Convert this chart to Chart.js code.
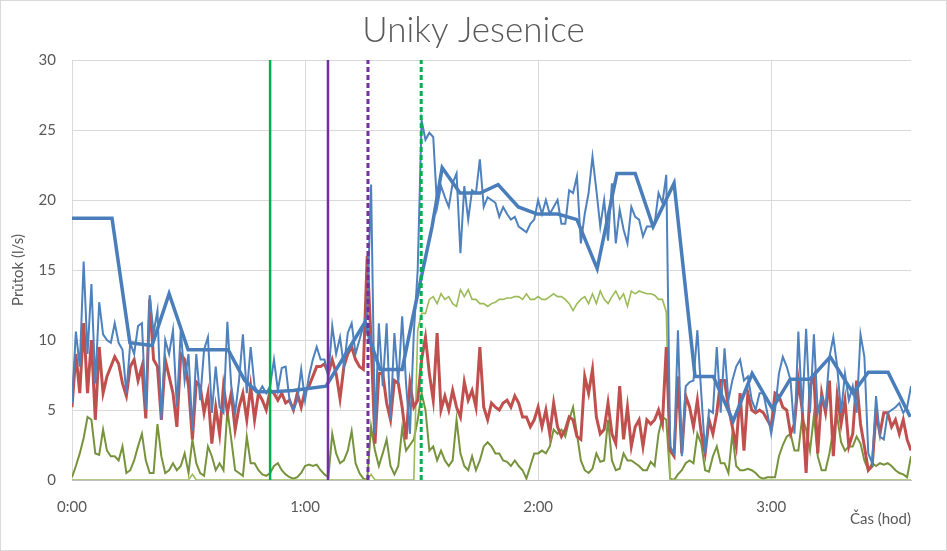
<!DOCTYPE html>
<html>
<head>
<meta charset="utf-8">
<script src="https://cdn.jsdelivr.net/npm/chart.js@4.4.1/dist/chart.umd.min.js"></script>
<style>
  html, body { margin: 0; padding: 0; background: #fff; }
  #wrap { width: 947px; height: 551px; }
</style>
</head>
<body>
<div id="wrap"><canvas id="chartCanvas" width="947" height="551"></canvas></div>
<script>
// --- data (cas v minutach, prutok v l/s) ---
const casMin = Array.from({ length: 217 }, (_, i) => i); // jeden vzorek za minutu

const prutokModra = [
  5.5,10.6,8.1,15.6,9.0,14.0,6.9,12.7,10.4,10.0,
  9.8,11.2,9.8,9.3,6.2,9.8,9.0,11.0,11.2,5.0,
  13.2,10.5,12.1,4.3,10.0,9.0,10.7,5.2,10.7,7.1,
  9.0,3.5,9.0,5.7,9.3,10.2,4.8,8.1,5.2,4.8,
  11.3,6.7,4.8,7.1,10.4,6.2,9.5,6.7,6.2,6.7,
  6.2,6.7,8.6,6.4,8.0,8.1,5.7,5.0,5.7,7.9,
  5.7,7.4,8.6,9.5,8.6,8.6,7.4,11.0,9.0,10.2,
  8.1,10.5,11.2,9.0,10.0,11.0,11.9,21.1,3.3,11.2,
  6.7,11.2,4.3,10.5,6.9,11.7,6.9,3.3,10.5,15.0,
  25.7,24.3,24.8,24.5,19.5,21.0,20.2,19.5,21.2,21.9,
  16.2,21.0,18.6,20.7,20.5,22.9,19.5,20.2,20.0,19.8,
  18.8,19.5,19.0,18.6,18.8,18.1,17.9,17.7,18.3,18.6,
  20.0,19.0,20.0,19.0,19.5,20.0,18.3,18.3,20.7,20.5,
  21.7,16.9,19.0,20.5,23.1,20.7,18.1,20.0,17.1,21.2,
  16.9,19.3,17.9,16.9,19.5,18.8,18.6,17.4,18.1,18.1,
  18.3,20.5,19.8,21.8,2.4,1.9,10.7,1.7,6.7,7.0,
  7.1,10.7,6.2,1.9,5.0,4.8,9.5,4.8,9.4,5.7,
  7.1,8.1,8.6,7.1,7.4,5.7,5.0,6.2,6.2,4.8,
  3.3,5.0,7.6,8.8,8.1,7.1,3.3,10.6,4.8,10.8,
  4.8,10.4,4.8,6.0,5.2,8.8,10.2,8.1,4.8,7.6,
  5.7,6.7,4.8,10.4,8.8,1.9,1.2,6.0,3.1,2.9,
  4.8,5.0,5.2,5.5,4.8,5.2,6.7
];

const prutokCervena = [
  5.2,9.0,6.2,11.2,6.2,10.0,4.3,9.5,6.2,7.4,
  8.1,8.8,8.3,6.9,6.0,8.1,8.6,7.1,8.1,4.4,
  12.9,8.6,8.1,4.3,8.6,7.4,6.2,3.8,9.0,8.6,
  6.7,2.9,7.0,6.7,4.8,6.2,2.6,5.2,3.3,6.7,
  4.8,6.2,3.6,5.2,6.2,4.3,6.7,4.3,6.2,5.7,
  5.0,6.4,6.2,5.7,6.2,5.5,5.7,5.0,6.2,5.2,
  6.4,6.7,7.4,8.1,8.1,8.3,7.6,8.6,7.6,5.8,
  8.1,9.0,9.5,8.6,8.1,7.9,16.0,10.0,2.6,7.6,
  7.6,5.5,4.3,7.1,6.9,5.2,2.9,6.9,5.2,5.7,
  8.6,10.2,7.6,5.7,10.5,5.0,6.0,5.0,6.4,5.2,
  4.5,7.0,5.7,6.4,5.2,9.5,5.2,4.3,5.5,5.2,
  5.0,5.5,5.7,5.2,6.0,5.5,4.5,4.5,3.8,4.3,
  5.2,3.8,5.0,3.3,5.5,3.8,3.1,3.6,4.5,4.3,
  3.1,2.9,7.4,6.2,7.9,4.5,3.3,3.6,5.5,3.3,
  2.6,6.7,2.9,5.2,2.4,3.8,4.3,2.4,4.3,4.0,
  4.3,5.0,4.0,9.5,2.1,1.7,7.4,1.9,6.0,5.2,
  3.8,5.7,3.3,1.9,4.3,3.3,4.8,7.1,7.1,5.2,
  3.8,2.4,6.2,2.1,6.2,5.0,4.8,5.0,4.8,4.3,
  3.8,6.2,6.0,5.2,5.0,3.3,4.0,7.1,5.0,0.5,
  6.7,7.4,1.9,6.2,4.8,7.1,1.7,6.0,4.0,5.7,
  2.4,3.3,7.1,4.0,2.4,0.7,1.0,4.8,3.3,4.8,
  4.8,3.8,4.3,3.3,4.3,2.9,2.1
];

const prutokOlivova = [
  0.2,1.0,1.9,3.0,4.5,4.3,1.9,1.8,3.6,2.1,
  1.7,1.7,1.4,2.4,0.5,0.7,1.4,2.4,3.3,1.4,
  0.5,0.5,4.0,1.7,0.5,0.7,1.2,0.7,1.0,1.9,
  0.5,2.9,1.2,0.5,0.3,2.4,1.7,0.7,1.2,0.7,
  5.0,2.9,0.7,0.5,0.3,3.1,1.2,1.2,0.7,0.4,
  0.3,0.5,1.0,1.2,0.7,0.4,0.2,0.1,0.2,0.5,
  1.0,1.1,1.0,1.1,0.7,0.4,0.2,3.3,1.9,1.2,
  1.4,2.1,3.5,1.2,0.5,0.1,0,3.8,2.1,1.0,
  1.9,2.9,1.0,0.4,1.0,3.7,2.1,2.5,2.9,4.3,
  6.2,5.0,2.1,2.4,1.4,2.1,1.4,1.0,1.4,4.3,
  1.9,1.0,0.7,1.7,0.7,1.4,2.4,2.7,2.4,1.9,
  1.9,1.4,1.3,1.0,1.4,1.0,0.7,0.1,1.0,1.9,
  1.9,2.1,1.9,2.4,3.6,3.3,3.6,3.1,4.3,5.2,
  3.3,1.4,0.7,0.5,0.8,1.9,1.3,1.4,4.3,1.4,
  0.7,0.8,1.9,1.4,1.4,1.2,1.0,0.7,0.7,1.3,
  1.0,3.3,4.5,4.3,0.1,0,0.4,0.7,1.2,1.4,
  1.2,3.3,2.6,0.7,0.6,1.7,2.4,1.2,1.2,0.5,
  3.3,1.0,0.7,0.7,0.8,0.7,0.5,0.2,0.1,0.2,
  0.2,0.2,1.7,2.5,3.1,3.3,2.1,2.1,4.5,3.6,
  2.1,4.6,1.7,0.7,0.7,1.9,3.6,4.5,2.7,2.1,
  2.4,2.4,3.1,2.6,1.4,0.7,1.2,1.0,1.2,1.1,
  1.2,1.0,0.7,0.5,0.4,0.2,1.7
];

const prutokZelena = [
  0,0,0,0,0,0,0,0,0,0,
  0,0,0,0,0,0,0,0,0,0,
  0,0,0,0,0,0,0,0,0,0,
  0,0.4,0,0,0,0,0,0,0,0,
  0,0,0,0,0,0,0,0,0,0,
  0,0,0,0,0,0,0,0,0,0,
  0,0,0,0,0,0,0,0,0,0,
  0,0,0,0,0,0,0,0.4,0,0,
  0,0,0,0,0,0,0,0,0,10.7,
  11.9,11.9,12.9,13.1,12.6,13.3,12.9,13.1,12.6,12.4,
  13.6,13.1,13.6,12.9,12.9,12.6,12.6,12.4,12.6,12.7,
  12.9,12.9,13.0,13.0,13.1,13.1,12.9,13.3,12.9,12.9,
  13.1,12.9,12.9,13.1,13.3,13.1,13.1,12.9,12.6,12.1,
  12.6,12.9,13.1,12.6,13.3,12.6,13.5,12.9,12.6,13.1,
  13.5,12.9,13.3,12.4,13.5,13.3,13.5,13.4,13.3,13.3,
  13.2,12.9,12.9,12.0,0,0,0,0,0,0,
  0,0,0,0,0,0,0,0,0,0,
  0,0,0,0,0,0,0,0,0,0,
  0,0,0,0,0,0,0,0,0,0,
  0,0,0,0,0,0,0,0,0,0,
  0,0,0,0,0,0,0,0,0,0,
  0,0,0,0,0,0,0
];

// vyhlazeny prubeh (silna modra)
const trendCas = [0,10.3,14.9,20.6,25.0,29.9,40.2,44.5,47.6,51.5,56.9,65.4,75.5,76.7,79.3,85.0,87.8,92.7,95.3,99.9,105.1,109.7,114.9,119.7,125.1,130.0,135.2,140.3,145.0,149.6,155.0,160.4,165.1,170.2,175.1,180.3,184.9,190.0,195.2,201.1,205.0,210.1,215.8];
const trendHodnota = [18.7,18.7,9.8,9.6,13.3,9.3,9.3,7.1,6.3,6.3,6.4,6.7,11.3,10.0,7.9,7.9,11.7,18.1,22.3,20.5,20.5,21.1,19.5,19.0,19.0,18.6,15.1,21.9,21.9,18.1,21.2,7.4,7.4,4.2,7.6,5.1,7.2,7.2,8.8,6.2,7.7,7.7,4.5];

// svisle znacky (cas v minutach)
const znackyCas = [51.0, 65.9, 76.2, 89.9];
const znackyBarva = ["#00B050", "#7030A0", "#7030A0", "#00B050"];
const znackyCarkovane = [false, false, true, true];

const casTicks = [0, 60, 120, 180];
const yMax = 30;

// --- helpers ---
const toPoints = (xs, ys) => xs.map((x, i) => ({ x, y: ys[i] }));

function lineDs(label, data, color, width, extra) {
  return Object.assign({
    label, data,
    borderColor: color,
    backgroundColor: color,
    borderWidth: width,
    pointRadius: 0,
    tension: 0,
    fill: false
  }, extra || {});
}

const markerSets = znackyCas.map((t, i) => lineDs(
  "znacka" + i,
  [{ x: t, y: 0 }, { x: t, y: yMax }],
  znackyBarva[i], znackyCarkovane[i] ? 3 : 2.5,
  znackyCarkovane[i] ? { borderDash: [5, 3] } : {}
));

// first dataset is drawn on top
const datasets = [
  ...markerSets,
  lineDs("prubeh", toPoints(trendCas, trendHodnota), "#4A7EBB", 3.5),
  lineDs("modra", toPoints(casMin, prutokModra), "#4F81BD", 2),
  lineDs("cervena", toPoints(casMin, prutokCervena), "#C0504D", 3),
  lineDs("zelena", toPoints(casMin, prutokZelena), "#9BBB59", 1.6),
  lineDs("olivova", toPoints(casMin, prutokOlivova), "#77933C", 2)
];

const frame = {
  id: "frame",
  beforeDraw(chart) {
    const c = chart.ctx;
    c.save();
    c.fillStyle = "#fff";
    c.fillRect(0, 0, chart.width, chart.height);
    c.restore();
  },
  afterDraw(chart) {
    const c = chart.ctx;
    c.save();
    c.strokeStyle = "#D9D9D9";
    c.lineWidth = 1;
    c.strokeRect(0.5, 0.5, chart.width - 1, chart.height - 1);
    c.restore();
  }
};

const txt = "#595959";
const fontFam = "Lato, 'Open Sans', sans-serif";

new Chart(document.getElementById("chartCanvas"), {
  type: "line",
  data: { datasets },
  plugins: [frame],
  options: {
    responsive: false,
    animation: false,
    devicePixelRatio: 1,
    layout: { padding: 0 },
    plugins: {
      legend: { display: false },
      tooltip: { enabled: false },
      title: {
        display: true,
        text: "Uniky Jesenice",
        color: txt,
        font: { family: fontFam, size: 35, weight: "300" },
        padding: { top: 10, bottom: 8 }
      }
    },
    scales: {
      x: {
        type: "linear",
        min: 0,
        max: 216,
        afterFit: s => { s.height = 71; },
        ticks: {
          stepSize: 60,
          color: txt,
          font: { family: fontFam, size: 15 },
          padding: 18,
          maxRotation: 0,
          callback: v => casTicks.includes(v) ? `${v / 60}:00` : ""
        },
        grid: {
          drawTicks: false,
          color: ctx => (ctx.tick && casTicks.includes(ctx.tick.value)) ? "#D9D9D9" : "rgba(0,0,0,0)"
        },
        border: { display: true, color: "#BFBFBF" },
        title: {
          display: true,
          text: "Čas (hod)",
          align: "end",
          color: txt,
          font: { family: fontFam, size: 15 },
          padding: { top: 0, bottom: 23 }
        }
      },
      y: {
        min: 0,
        max: yMax,
        afterFit: s => { s.width = 72; },
        ticks: {
          stepSize: 5,
          color: txt,
          font: { family: fontFam, size: 15 },
          padding: 16
        },
        grid: {
          drawTicks: false,
          color: ctx => (ctx.tick && ctx.tick.value === 0) ? "#BFBFBF" : "#D9D9D9"
        },
        border: { display: false },
        title: {
          display: true,
          text: "Průtok (l/s)",
          color: txt,
          font: { family: fontFam, size: 15 },
          padding: { top: 9, bottom: 0 }
        }
      },
      // empty right margin so the title stays centred on the whole frame
      okraj: {
        type: "linear",
        position: "right",
        min: 0,
        max: yMax,
        afterFit: s => { s.width = 36; },
        ticks: { display: false },
        grid: { display: false },
        border: { display: false }
      }
    }
  }
});
</script>
</body>
</html>
